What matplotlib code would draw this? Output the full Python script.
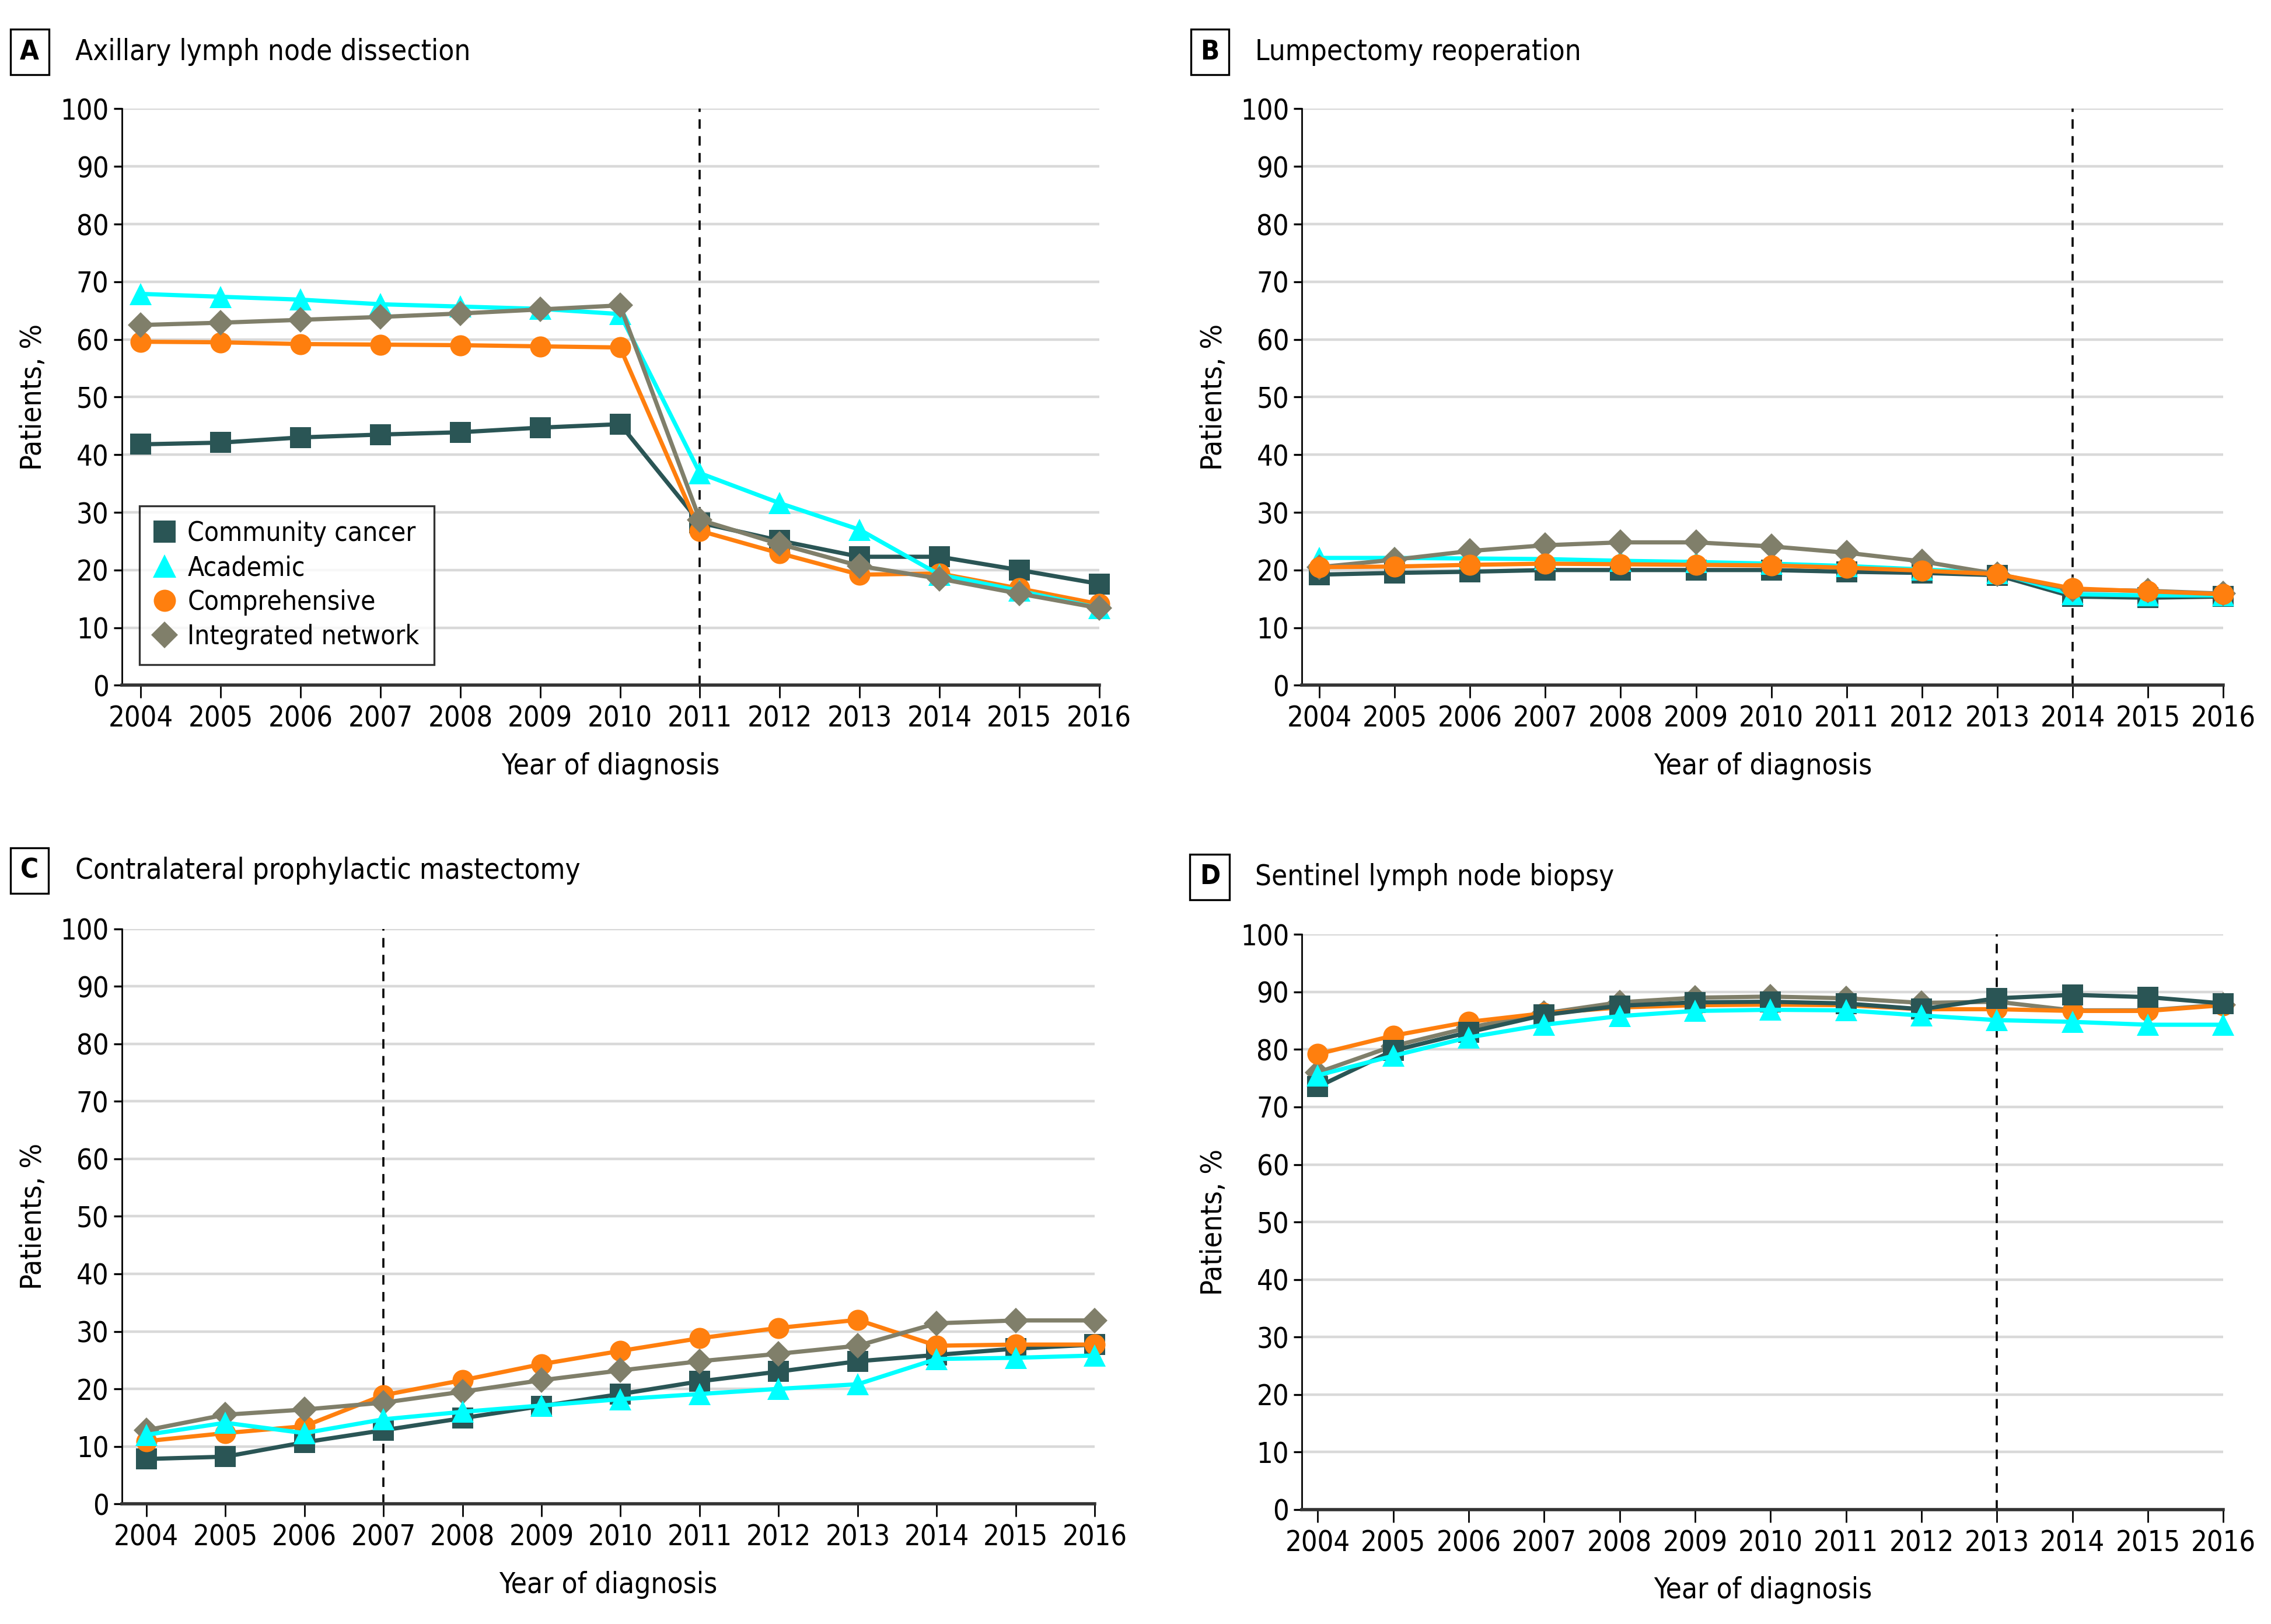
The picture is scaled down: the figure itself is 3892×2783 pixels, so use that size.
import numpy as np
import matplotlib
matplotlib.use('Agg')
import matplotlib.pyplot as plt

plt.rcParams['font.family'] = ['DejaVu Sans']
plt.rcParams['font.stretch'] = 'condensed'

years = list(range(2004, 2017))
series_names = ['Community cancer', 'Academic', 'Comprehensive', 'Integrated network']

# Panel A - axillary lymph node dissection
alnd_community = [41.8, 42.1, 43.0, 43.5, 43.9, 44.7, 45.3, 28.2, 25.1, 22.3, 22.3, 20.0, 17.6]
alnd_academic = [67.9, 67.4, 66.9, 66.1, 65.7, 65.3, 64.4, 36.8, 31.6, 27.0, 19.2, 16.4, 13.4]
alnd_comprehensive = [59.6, 59.5, 59.2, 59.1, 59.0, 58.8, 58.6, 26.8, 22.9, 19.2, 19.4, 16.8, 14.1]
alnd_integrated = [62.5, 62.9, 63.4, 63.9, 64.5, 65.2, 65.9, 28.7, 24.5, 20.7, 18.5, 15.9, 13.4]

# Panel B - lumpectomy reoperation
reop_community = [19.2, 19.5, 19.7, 20.0, 20.0, 20.0, 20.0, 19.7, 19.5, 19.1, 15.4, 15.2, 15.4]
reop_academic = [22.1, 22.1, 22.0, 21.9, 21.6, 21.4, 21.1, 20.7, 20.1, 19.5, 15.8, 15.6, 15.6]
reop_comprehensive = [20.5, 20.6, 20.9, 21.1, 21.0, 20.9, 20.8, 20.4, 19.9, 19.3, 16.8, 16.3, 15.8]
reop_integrated = [20.5, 21.8, 23.3, 24.3, 24.8, 24.8, 24.1, 23.0, 21.5, 19.3, 16.6, 16.4, 15.9]

# Panel C - contralateral prophylactic mastectomy
cpm_community = [7.8, 8.2, 10.7, 12.8, 14.9, 17.0, 19.1, 21.3, 23.0, 24.8, 25.9, 27.0, 27.7]
cpm_academic = [12.0, 14.1, 12.3, 14.7, 16.0, 17.1, 18.2, 19.1, 20.0, 20.8, 25.2, 25.4, 25.8]
cpm_comprehensive = [10.9, 12.3, 13.5, 18.9, 21.5, 24.3, 26.6, 28.8, 30.6, 32.0, 27.5, 27.7, 27.7]
cpm_integrated = [12.8, 15.5, 16.4, 17.6, 19.5, 21.5, 23.2, 24.8, 26.1, 27.5, 31.4, 31.9, 31.9]

# Panel D - sentinel lymph node biopsy
slnb_community = [73.5, 79.8, 83.0, 86.0, 87.6, 88.2, 88.3, 88.0, 87.0, 88.9, 89.5, 89.1, 88.0]
slnb_academic = [75.5, 78.9, 82.1, 84.3, 85.8, 86.7, 86.9, 86.8, 85.9, 85.1, 84.8, 84.3, 84.3]
slnb_comprehensive = [79.2, 82.4, 84.8, 86.3, 87.3, 87.7, 87.8, 87.7, 87.0, 87.0, 86.7, 86.7, 87.7]
slnb_integrated = [76.0, 80.6, 83.8, 86.3, 88.2, 89.0, 89.2, 88.9, 88.1, 88.3, 86.8, 86.8, 87.8]

panel_letters = ['A', 'B', 'C', 'D']
panel_titles = ['Axillary lymph node dissection', 'Lumpectomy reoperation',
                'Contralateral prophylactic mastectomy', 'Sentinel lymph node biopsy']
guideline_years = [2011, 2014, 2007, 2013]

colors = ['#2a5555', '#00ffff', '#ff7f0e', '#807f6a']
markers = ['s', '^', 'o', 'D']
msizes = [13, 14, 13, 11]

panels = [
    [alnd_community, alnd_academic, alnd_comprehensive, alnd_integrated],
    [reop_community, reop_academic, reop_comprehensive, reop_integrated],
    [cpm_community, cpm_academic, cpm_comprehensive, cpm_integrated],
    [slnb_community, slnb_academic, slnb_comprehensive, slnb_integrated],
]
# drawing order (first drawn = bottom)
orders = [[0, 2, 1, 3], [0, 1, 3, 2], [0, 2, 3, 1], [3, 2, 0, 1]]

# axes rectangles [left, bottom, width, height] in figure fraction
rects = [[0.0536, 0.578, 0.4304, 0.355],
         [0.5733, 0.578, 0.4057, 0.355],
         [0.0536, 0.074, 0.4285, 0.354],
         [0.5733, 0.0705, 0.4057, 0.3541]]
xleft = [2003.76, 2003.77, 2003.69, 2003.79]
title_y = [0.968, 0.968, 0.464, 0.460]

fig = plt.figure(figsize=(19.46, 13.915), dpi=200)

for i in range(4):
    ax = fig.add_axes(rects[i])
    data = panels[i]
    for k in orders[i]:
        ax.plot(years, data[k], color=colors[k], marker=markers[k], markersize=msizes[k],
                linewidth=2.6, markeredgewidth=0, label=series_names[k], clip_on=False,
                zorder=3 + orders[i].index(k))
    ax.axvline(guideline_years[i], color='black', linestyle=(0, (4.5, 3.5)), linewidth=1.3, zorder=2)

    ax.set_xlim(xleft[i], 2016)
    ax.set_ylim(0, 100)
    ax.set_xticks(years)
    ax.set_yticks(range(0, 101, 10))
    ax.yaxis.grid(True, color='#d9d9d9', linewidth=1.6)
    ax.set_axisbelow(True)
    ax.spines['right'].set_visible(False)
    ax.spines['top'].set_visible(False)
    ax.spines['left'].set_linewidth(1.0)
    ax.spines['bottom'].set_color('#333333')
    ax.spines['bottom'].set_linewidth(2.0)
    ax.tick_params(axis='y', direction='out', length=5, width=1.2, labelsize=17.5, pad=3)
    ax.tick_params(axis='x', direction='out', length=8, width=1.0, labelsize=17.5, pad=4)

    ax.set_xlabel('Year of diagnosis', fontsize=17.8, labelpad=12)
    ax.set_ylabel('Patients, %', fontsize=18, labelpad=8)

    # panel letter box and title
    fig.text(rects[i][0] - 0.0406, title_y[i], panel_letters[i], fontsize=17, fontweight='bold',
             ha='center', va='center',
             bbox=dict(boxstyle='square,pad=0.35', facecolor='white', edgecolor='black', linewidth=1.2))
    fig.text(rects[i][0] - 0.0205, title_y[i], panel_titles[i], fontsize=17.7, ha='left', va='center')

    if i == 0:
        leg = ax.legend(handles=[ax.lines[orders[0].index(k)] for k in range(4)],
                        loc='lower left', bbox_to_anchor=(0.018, 0.036), fontsize=16.5,
                        frameon=True, fancybox=False, borderaxespad=0, handlelength=0.8,
                        handletextpad=0.45, labelspacing=0.3, borderpad=0.55, markerscale=1.05)
        leg.get_frame().set_edgecolor('black')
        leg.get_frame().set_linewidth(1.2)
        for h in leg.legend_handles:
            h.set_linestyle('None')
        leg.set_zorder(20)

fig.savefig('out.png', dpi=200, facecolor='white')
